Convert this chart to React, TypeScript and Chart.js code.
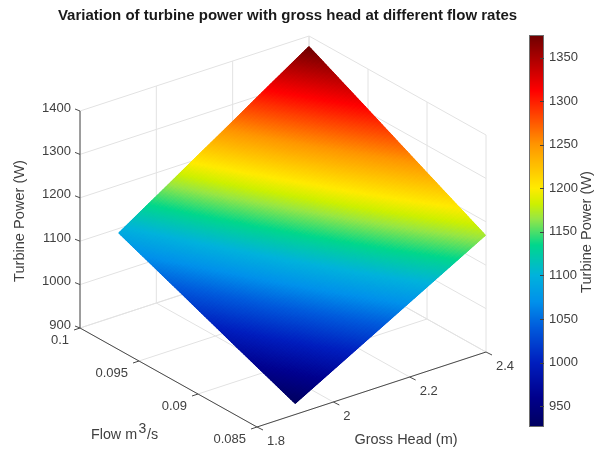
import React, { useEffect, useRef } from "react";
import { Chart, registerables } from "chart.js";

Chart.register(...registerables);

const titleText = "Variation of turbine power with gross head at different flow rates";
const heads = [1.9, 2.0, 2.1, 2.2, 2.3, 2.4];
const flows = [0.085, 0.09, 0.095, 0.1];
// power[flow index][head index], watts
const powerAt085 = [924, 973, 1022, 1071, 1120, 1169];
const powerAt090 = [979, 1031, 1083, 1135, 1187, 1238];
const powerAt095 = [1035, 1089, 1144, 1198, 1253, 1308];
const powerAt100 = [1090, 1147, 1205, 1262, 1320, 1377];
const powerRows = [powerAt085, powerAt090, powerAt095, powerAt100];

const headTicks = [1.8, 2, 2.2, 2.4];
const headTickLabels = ["1.8", "2", "2.2", "2.4"];
const flowTicks = [0.1, 0.095, 0.09, 0.085];
const flowTickLabels = ["0.1", "0.095", "0.09", "0.085"];
const powerTicks = [900, 1000, 1100, 1200, 1300, 1400];
const colorTicks = [950, 1000, 1050, 1100, 1150, 1200, 1250, 1300, 1350];
const colorMin = 926;
const colorMax = 1376;

// colour map: power value -> rgb
const mapValues = [926, 960, 1000, 1040, 1070, 1100, 1135, 1165, 1182, 1200, 1250, 1312, 1376];
const mapColors = [
  [0, 0, 95], [0, 0, 140], [0, 30, 190], [0, 90, 220], [0, 145, 235], [0, 178, 220], [0, 215, 140],
  [150, 230, 70], [205, 240, 0], [255, 235, 0], [255, 150, 0], [255, 0, 0], [110, 0, 0],
];

const FONT = '"Liberation Sans", Arial, sans-serif';
const TEXT = "#404040";
const GRID = "#e2e2e2";
const AXIS = "#4a4a4a";

function colorFor(v: number): string {
  const n = mapValues.length;
  if (v <= mapValues[0]) return `rgb(${mapColors[0].join(",")})`;
  if (v >= mapValues[n - 1]) return `rgb(${mapColors[n - 1].join(",")})`;
  let i = 0;
  while (v > mapValues[i + 1]) i++;
  const t = (v - mapValues[i]) / (mapValues[i + 1] - mapValues[i]);
  const c = mapColors[i].map((a, k) => Math.round(a + (mapColors[i + 1][k] - a) * t));
  return `rgb(${c.join(",")})`;
}

// orthographic view: head, flow, power -> plane of the picture
function proj(h: number, f: number, z: number) {
  const a = (h - 1.8) / 0.6;
  const b = (0.1 - f) / 0.015;
  const c = (z - 900) / 500;
  return { x: 80 + a * 229 + b * 177, y: 328 - a * 75 + b * 99 - c * 217 };
}

const surfacePlugin = {
  id: "surface3d",
  beforeDatasetsDraw(chart: any) {
    const { ctx, scales } = chart;
    const P = (h: number, f: number, z: number) => {
      const p = proj(h, f, z);
      return [scales.x.getPixelForValue(p.x), scales.py.getPixelForValue(p.y)];
    };
    const line = (a: number[], b: number[]) => {
      ctx.beginPath();
      ctx.moveTo(a[0], a[1]);
      ctx.lineTo(b[0], b[1]);
      ctx.stroke();
    };
    const hLo = headTicks[0], hHi = headTicks[headTicks.length - 1];
    const fHi = flowTicks[0], fLo = flowTicks[flowTicks.length - 1];
    const zLo = powerTicks[0], zHi = powerTicks[powerTicks.length - 1];
    ctx.save();
    ctx.lineWidth = 1;
    ctx.strokeStyle = GRID;
    powerTicks.forEach((z) => {
      line(P(hLo, fHi, z), P(hHi, fHi, z));
      line(P(hHi, fHi, z), P(hHi, fLo, z));
    });
    headTicks.forEach((h) => {
      line(P(h, fHi, zLo), P(h, fHi, zHi));
      line(P(h, fHi, zLo), P(h, fLo, zLo));
    });
    flowTicks.forEach((f) => {
      line(P(hHi, f, zLo), P(hHi, f, zHi));
      line(P(hLo, f, zLo), P(hHi, f, zLo));
    });

    // axes and ticks
    ctx.strokeStyle = AXIS;
    line(P(hLo, fHi, zLo), P(hLo, fHi, zHi));
    line(P(hLo, fHi, zLo), P(hLo, fLo, zLo));
    line(P(hLo, fLo, zLo), P(hHi, fLo, zLo));
    powerTicks.forEach((z) => {
      const a = P(hLo, fHi, z);
      line(a, [a[0] - 5, a[1] - 2]);
    });
    flowTicks.forEach((f) => {
      const a = P(hLo, f, zLo);
      line(a, [a[0] - 6, a[1] + 2]);
    });
    headTicks.forEach((h) => {
      const a = P(h, fLo, zLo);
      line(a, [a[0] + 6, a[1] + 3]);
    });

    // surface: outline as clip, then overlapping facets from the value table
    const lastR = flows.length - 1, lastC = heads.length - 1;
    ctx.save();
    ctx.beginPath();
    const outline: number[][] = [];
    heads.forEach((h, c) => outline.push(P(h, flows[0], powerRows[0][c])));
    flows.forEach((f, r) => outline.push(P(heads[lastC], f, powerRows[r][lastC])));
    for (let c = lastC; c >= 0; c--) outline.push(P(heads[c], flows[lastR], powerRows[lastR][c]));
    for (let r = lastR; r >= 0; r--) outline.push(P(heads[0], flows[r], powerRows[r][0]));
    outline.forEach((p, i) => (i ? ctx.lineTo(p[0], p[1]) : ctx.moveTo(p[0], p[1])));
    ctx.closePath();
    ctx.clip();
    const sub = 24;
    ctx.lineWidth = 1.6;
    ctx.lineJoin = "round";
    for (let r = 0; r < lastR; r++) {
      for (let c = 0; c < lastC; c++) {
        const z00 = powerRows[r][c], z01 = powerRows[r][c + 1];
        const z10 = powerRows[r + 1][c], z11 = powerRows[r + 1][c + 1];
        const Z = (u: number, v: number) =>
          z00 * (1 - u) * (1 - v) + z01 * u * (1 - v) + z10 * (1 - u) * v + z11 * u * v;
        const H = (u: number) => heads[c] + (heads[c + 1] - heads[c]) * u;
        const F = (v: number) => flows[r] + (flows[r + 1] - flows[r]) * v;
        for (let i = 0; i < sub; i++) {
          for (let j = 0; j < sub; j++) {
            const u0 = i / sub, u1 = (i + 1) / sub, v0 = j / sub, v1 = (j + 1) / sub;
            const a = P(H(u0), F(v0), Z(u0, v0));
            const b = P(H(u1), F(v0), Z(u1, v0));
            const d = P(H(u1), F(v1), Z(u1, v1));
            const e = P(H(u0), F(v1), Z(u0, v1));
            const col = colorFor(Z((u0 + u1) / 2, (v0 + v1) / 2));
            ctx.fillStyle = col;
            ctx.strokeStyle = col;
            ctx.beginPath();
            ctx.moveTo(a[0], a[1]);
            ctx.lineTo(b[0], b[1]);
            ctx.lineTo(d[0], d[1]);
            ctx.lineTo(e[0], e[1]);
            ctx.closePath();
            ctx.fill();
            ctx.stroke();
          }
        }
      }
    }
    ctx.restore();

    // colour bar along the colour scale
    const cs = scales.c;
    const x0 = 529, x1 = chart.chartArea.right;
    const top = cs.getPixelForValue(colorMax), bot = cs.getPixelForValue(colorMin);
    for (let y = Math.floor(top); y < bot; y++) {
      ctx.fillStyle = colorFor(cs.getValueForPixel(y + 0.5));
      ctx.fillRect(x0, y, x1 - x0, 1);
    }
    ctx.strokeStyle = "#6e6e6e";
    ctx.lineWidth = 1;
    ctx.strokeRect(x0 + 0.5, top + 0.5, x1 - x0 - 1, bot - top - 1);
    ctx.strokeStyle = "#404040";
    colorTicks.forEach((v) => {
      const y = Math.round(cs.getPixelForValue(v)) + 0.5;
      line([x1 - 4, y], [x1, y]);
    });
    ctx.restore();
  },
  afterDraw(chart: any) {
    const { ctx, scales } = chart;
    const P = (h: number, f: number, z: number) => {
      const p = proj(h, f, z);
      return [scales.x.getPixelForValue(p.x), scales.py.getPixelForValue(p.y)];
    };
    const hLo = headTicks[0];
    const fHi = flowTicks[0], fLo = flowTicks[flowTicks.length - 1];
    const zLo = powerTicks[0];
    ctx.save();
    ctx.textBaseline = "middle";
    ctx.fillStyle = "#1a1a1a";
    ctx.font = `bold 15px ${FONT}`;
    ctx.textAlign = "center";
    ctx.fillText(titleText, 287.5, 16);

    ctx.fillStyle = TEXT;
    ctx.font = `13px ${FONT}`;
    ctx.textAlign = "right";
    powerTicks.forEach((z) => {
      const a = P(hLo, fHi, z);
      ctx.fillText(String(z), a[0] - 9, a[1] - 3);
    });
    flowTicks.forEach((f, i) => {
      const a = P(hLo, f, zLo);
      ctx.fillText(flowTickLabels[i], a[0] - 11, a[1] + 12);
    });
    ctx.textAlign = "left";
    headTicks.forEach((h, i) => {
      const a = P(h, fLo, zLo);
      ctx.fillText(headTickLabels[i], a[0] + 10, a[1] + 14);
    });

    ctx.font = `14.5px ${FONT}`;
    ctx.textAlign = "center";
    ctx.fillText("Gross Head (m)", 406, 440);
    ctx.textAlign = "left";
    ctx.font = `14.3px ${FONT}`;
    ctx.fillText("Flow m", 91, 435);
    ctx.fillText("/s", 147, 435);
    ctx.font = `14px ${FONT}`;
    ctx.fillText("3", 138.5, 429);

    ctx.font = `14.6px ${FONT}`;
    ctx.textAlign = "center";
    ctx.translate(20, 221);
    ctx.rotate(-Math.PI / 2);
    ctx.fillText("Turbine Power (W)", 0, 0);
    ctx.rotate(Math.PI / 2);
    ctx.translate(-20, -221);
    ctx.translate(587, 232);
    ctx.rotate(-Math.PI / 2);
    ctx.fillText("Turbine Power (W)", 0, 0);
    ctx.restore();
  },
};

export default function App() {
  const ref = useRef<HTMLCanvasElement>(null);
  useEffect(() => {
    document.body.style.margin = "0";
    const nodes = flows.flatMap((f, r) =>
      heads.map((h, c) => {
        const p = proj(h, f, powerRows[r][c]);
        return { x: p.x, y: p.y };
      })
    );
    const chart = new Chart(ref.current as HTMLCanvasElement, {
      type: "scatter",
      data: {
        datasets: [
          { label: "Turbine Power (W)", data: nodes, xAxisID: "x", yAxisID: "py", pointRadius: 0, showLine: false },
        ],
      },
      options: {
        animation: false,
        responsive: false,
        events: [],
        layout: { padding: { top: 35, bottom: 23, left: 0, right: 0 } },
        plugins: { legend: { display: false }, tooltip: { enabled: false }, title: { display: false } },
        scales: {
          x: { type: "linear", display: false, min: 0, max: 544 },
          py: { type: "linear", display: false, reverse: true, min: 35, max: 427 },
          c: {
            type: "linear",
            position: "right",
            min: colorMin,
            max: colorMax,
            afterBuildTicks: (s: any) => {
              s.ticks = colorTicks.map((value) => ({ value }));
            },
            afterFit: (s: any) => {
              s.width = 50;
            },
            grid: { display: false, drawTicks: false },
            border: { display: false },
            ticks: {
              color: TEXT,
              padding: 5,
              font: { family: FONT, size: 13 },
              autoSkip: false,
              maxRotation: 0,
              callback: (v: any) => String(v),
            },
          },
        },
      },
      plugins: [surfacePlugin],
    } as any);
    return () => chart.destroy();
  }, []);
  return <canvas ref={ref} width={594} height={450} style={{ display: "block", filter: "blur(0.35px)" }} />;
}
